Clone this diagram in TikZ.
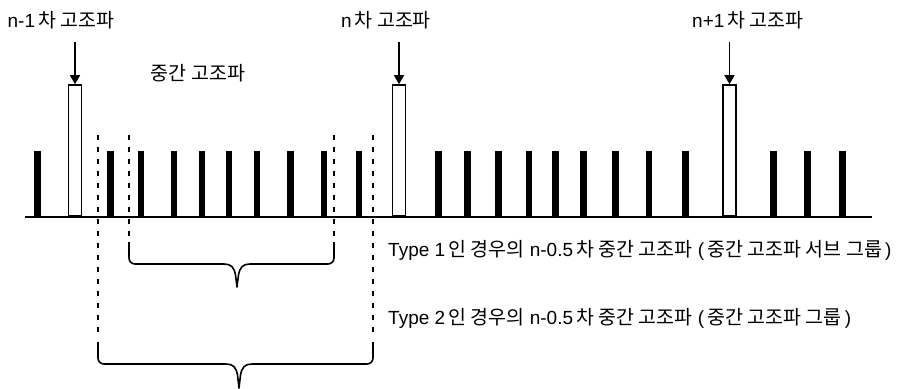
\documentclass[tikz,border=0pt]{standalone}
\usepackage{fontspec}
\setmainfont{Liberation Sans}
\newfontfamily\krfont{Noto Sans CJK KR}
\newcommand\K[1]{{\krfont\fontsize{19.5}{22}\selectfont #1}}
\usetikzlibrary{arrows.meta}
\tikzset{
  lbl/.style={inner sep=0pt, font=\fontsize{19}{22}\selectfont},
  openbar/.style={draw=black, fill=white, line width=1.8pt, minimum width=13pt, minimum height=131pt, inner sep=0pt, anchor=south},
  ptr/.style={line width=1.4pt, -{Triangle[length=9pt,width=10pt]}},
  dots/.style={line width=2.3pt, dash pattern=on 5pt off 7pt},
  bracestyle/.style={line width=1.6pt, line join=round}
}
\begin{document}
\begin{tikzpicture}[x=1pt,y=-1pt]
\useasboundingbox (0,0) rectangle (904,388);
% baseline
\draw[line width=2pt] (25,216.5) coordinate (b0) -- (872,216.5) coordinate (b1);
% solid bars
\foreach \xx in {37.5,110.5,141,174,202,229,257,290.5,324,359,438.5,467.5,498.5,529,555.5,583.5,615.5,649,685.5,773.5,807.5,842.5}
  \fill (\xx-3.3,151) rectangle (\xx+3.3,216.5);
% open bars
\node[openbar] (h1) at (75,217) {};
\node[openbar] (h2) at (399,217) {};
\node[openbar] (h3) at (729.5,217) {};
% labels
\node[lbl] (l1) at (61,20) {n-1\,\K{차 고조파}};
\node[lbl] (l2) at (386,20) {n\,\K{차 고조파}};
\node[lbl] (l3) at (748,20) {n+1\,\K{차 고조파}};
\node[lbl] (mid) at (198,73) {\K{중간 고조파}};
% arrows
\coordinate (a1) at (75,42);
\coordinate (a2) at (399,42);
\coordinate (a3) at (729.5,42);
\draw[ptr] (a1) -- (h1.north);
\draw[ptr] (a2) -- (h2.north);
\draw[ptr] (a3) -- (h3.north);
% dotted lines
\draw[dots] (98,135) -- (98,338);
\draw[dots] (373,135) -- (373,338);
\draw[dots] (129,135) -- (129,238);
\draw[dots] (334,135) -- (334,238);
% inner brace
\draw[bracestyle] (129,242) -- (129,258) arc[start angle=180,end angle=90,x radius=6pt,y radius=-6pt]
  -- (224,264) .. controls (231,264) and (234,267) .. (235.5,275) -- (237,287) -- (238.5,275)
  .. controls (240,267) and (243,264) .. (250,264) -- (328,264) arc[start angle=90,end angle=0,x radius=6pt,y radius=-6pt] -- (334,242);
% outer brace
\draw[bracestyle] (98,342) -- (98,358) arc[start angle=180,end angle=90,x radius=6pt,y radius=-6pt]
  -- (226,364) .. controls (233,364) and (236,367) .. (237.5,375) -- (239,388) -- (240.5,375)
  .. controls (242,367) and (245,364) .. (252,364) -- (367,364) arc[start angle=90,end angle=0,x radius=6pt,y radius=-6pt] -- (373,342);
% texts
\node[lbl, anchor=west] (t1) at (388,250) {Type 1\,\K{인 경우의} n-0.5\,\K{차 중간 고조파} (\,\K{중간 고조파 서브 그룹}\,)};
\node[lbl, anchor=west] (t2) at (388,318) {Type 2\,\K{인 경우의} n-0.5\,\K{차 중간 고조파} (\,\K{중간 고조파 그룹}\,)};
\end{tikzpicture}
\end{document}
